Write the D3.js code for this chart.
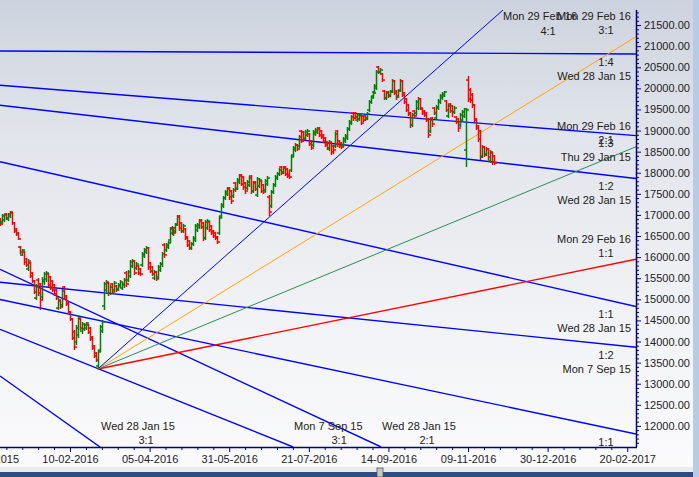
<!DOCTYPE html>
<html><head><meta charset="utf-8">
<script src="https://cdn.jsdelivr.net/npm/d3@7/dist/d3.min.js"></script>
<style>html,body{margin:0;padding:0;overflow:hidden;background:#fff}</style>
</head><body><svg id="c" width="699" height="477"></svg>
<script>
// ---- daily OHLC (bar index 0 .. 248) ----
const opens=[16904,16833,16880,17022,16904,16975,17046,16809,16667,16572,
16240,16051,16122,15956,15719,15861,15624,15434,15031,15458,
15363,15055,15411,15482,15600,15529,15434,15340,15221,14794,
14960,14866,15292,15079,14913,14700,14534,14226,13989,14155,
14534,14249,14297,14320,14392,14320,14107,13894,13728,13420,
13799,14249,14842,15221,15387,15150,15363,15221,15316,15245,
15316,15268,15340,15624,15458,15553,15790,15908,15742,15790,
15719,15814,16027,16122,16216,15861,15766,15505,15648,15529,
15695,15837,16288,16169,16240,16406,16572,16690,16619,16785,
16975,16809,16619,16667,16477,16382,16216,16311,16406,16643,
16714,16880,16809,16453,16690,16833,16738,16619,16572,16477,
16572,16975,17212,17401,17496,17638,17567,17449,17757,17638,
17781,17947,17899,17757,17638,17710,17923,17567,17781,17473,
17686,17804,17710,17591,17733,17425,17212,17544,17710,17875,
17970,18136,18018,18136,18089,17947,18065,18421,18539,18658,
18634,18989,18966,18823,18895,18918,18752,18658,18918,18966,
19060,18989,18895,18823,18729,18563,18705,18634,18634,18989,
18752,18705,18658,18752,18823,19037,19179,19416,19416,19250,
19274,19345,19345,19345,19297,19487,19677,19819,19914,20008,
20506,20388,20340,19937,19771,19914,19843,19937,20174,19937,
19819,19961,20174,19890,19748,19606,19416,19132,19463,19416,
19534,19748,19511,19463,19416,19274,18989,19297,19534,19297,
19534,19677,19771,19819,19700,19345,19629,19582,19440,19321,
19274,19132,19250,19345,18539,20198,19961,19843,19606,19274,
19108,18989,18397,18610,18444,18563,18278,18468,18397];
const highs=[16927,17022,17022,17046,17046,17093,17070,16833,16690,16596,
16264,16193,16145,15979,15956,15885,15648,15458,15363,15505,
15387,15529,15648,15671,15624,15553,15458,15363,15245,15031,
14984,15245,15316,15103,14937,14723,14557,14273,14392,14605,
14557,14463,14439,14463,14415,14344,14131,13918,13752,13799,
14392,14510,15411,15458,15411,15340,15387,15434,15340,15387,
15458,15411,15505,15671,15695,15932,15956,15932,15885,15814,
15742,16122,16216,16264,16240,15885,15790,15695,15671,15814,
15885,16122,16335,16335,16382,16714,16738,16714,16809,16999,
16999,16833,16785,16690,16501,16406,16359,16501,16785,16809,
16904,16904,16833,16880,16904,16856,16762,16643,16596,16501,
16975,17283,17449,17591,17662,17662,17591,17638,17781,17875,
17970,17970,17923,17781,17828,17923,17947,17804,17804,17899,
17875,17828,17733,17852,17923,17473,17591,17757,17947,18018,
18112,18160,18160,18160,18112,18065,18421,18634,18705,18681,
18895,19013,18989,19013,19037,18942,18776,19013,19060,19084,
19084,19013,18918,18847,18752,18776,18729,18658,18966,19013,
18776,18729,18847,18918,19084,19250,19369,19440,19440,19416,
19416,19369,19369,19369,19440,19724,19819,19937,20103,20435,
20530,20482,20364,19961,19937,19937,19961,20222,20198,19961,
19985,20222,20198,19914,19771,19629,19440,19416,19487,19724,
19795,19771,19534,19487,19440,19297,19297,19321,19558,19606,
19748,19866,19914,19937,19724,19629,19653,19606,19582,19345,
19297,19416,19487,19534,19534,20293,20008,19890,19629,19297,
19132,19013,18658,18634,18610,18586,18539,18492,18421];
const lows=[16738,16785,16833,16880,16856,16927,16762,16572,16501,16406,
16074,16027,15814,15766,15671,15505,15387,15126,14984,15079,
14747,14984,15340,15411,15292,15221,15174,15079,14984,14747,
14771,14818,14984,14842,14652,14486,14036,13799,13918,14083,
14273,14178,14249,14273,14178,14012,13799,13609,13515,13349,
13752,14202,14747,15174,15079,15103,15126,15174,15174,15197,
15268,15221,15268,15292,15411,15505,15742,15577,15695,15577,
15553,15766,15979,16074,15695,15624,15553,15458,15434,15482,
15648,15766,15979,16122,16193,16335,16525,16501,16572,16738,
16619,16572,16572,16406,16240,16169,16169,16264,16359,16596,
16667,16667,16382,16406,16643,16596,16525,16453,16406,16311,
16525,16927,17164,17354,17449,17354,17259,17401,17544,17591,
17733,17686,17591,17496,17591,17662,17496,17520,17567,17425,
17638,17520,17496,17544,17686,16975,17164,17496,17662,17828,
17923,17947,17970,17923,17875,17852,18018,18373,18492,18515,
18586,18705,18729,18776,18847,18634,18539,18610,18871,18918,
18847,18800,18705,18610,18539,18515,18421,18444,18586,18610,
18586,18563,18610,18705,18776,18989,19132,19226,19274,19203,
19226,19132,19203,19226,19250,19440,19629,19771,19866,19961,
20340,20340,20151,19724,19724,19771,19795,19890,19843,19724,
19771,19914,19795,19629,19440,19345,19060,19084,19297,19369,
19487,19487,19369,19321,19203,18823,18942,19084,19369,19250,
19487,19629,19724,19795,19440,19297,19416,19321,19392,19155,
18966,19084,19203,19297,18136,19677,19653,19534,19203,19013,
18729,18302,18349,18373,18397,18302,18231,18184,18184];
const closes=[16785,16975,16999,16927,17022,17070,16809,16619,16548,16430,
16122,16169,15885,15814,15908,15553,15434,15174,15316,15150,
14984,15458,15600,15624,15340,15268,15221,15126,15031,14984,
14818,15197,15031,14889,14700,14534,14083,13870,14320,14557,
14320,14415,14392,14439,14226,14060,13846,13657,13562,13752,
14344,14463,15363,15411,15150,15292,15174,15387,15221,15340,
15411,15363,15458,15363,15648,15885,15908,15624,15837,15624,
15600,16074,16169,16216,15766,15671,15600,15648,15482,15766,
15837,16074,16051,16288,16335,16667,16690,16572,16762,16951,
16690,16619,16738,16453,16288,16216,16311,16453,16738,16762,
16856,16714,16453,16833,16856,16643,16572,16501,16453,16359,
16927,17236,17401,17544,17615,17425,17330,17591,17615,17828,
17923,17733,17662,17567,17781,17875,17567,17757,17615,17852,
17828,17567,17544,17804,17875,17070,17544,17710,17899,17970,
18065,17994,18112,17970,17923,17899,18373,18586,18658,18563,
18847,18752,18800,18966,18989,18681,18586,18966,19013,19037,
18895,18847,18752,18658,18586,18729,18492,18539,18918,18681,
18634,18610,18800,18871,19037,19203,19321,19297,19321,19369,
19369,19179,19250,19274,19392,19677,19771,19890,20056,20388,
20388,20435,20198,19771,19890,19819,19914,20174,19890,19795,
19937,20174,19843,19677,19487,19392,19132,19369,19345,19677,
19748,19534,19416,19369,19250,18895,19250,19155,19416,19558,
19700,19819,19866,19914,19487,19582,19463,19440,19534,19203,
19060,19369,19440,19511,19487,19748,19724,19606,19250,19060,
18800,18373,18610,18421,18563,18373,18492,18255,18231];

// ---- time axis (bar index) ----
const xTickIndex=[-5,35,75,115,155,195,235,275,315];
const xTickLabels=["14-12-2015","10-02-2016","05-04-2016","31-05-2016","21-07-2016","14-09-2016","09-11-2016","30-12-2016","20-02-2017"];
const yTickValues=[12000,12500,13000,13500,14000,14500,15000,15500,16000,16500,17000,17500,18000,18500,19000,19500,20000,20500,21000,21500];

// ---- Gann lines: start (bar, price) -> end (bar, price) ----
const gannFrom =["Wed 28 Jan 15","Thu 29 Jan 15","Wed 28 Jan 15","Wed 28 Jan 15","Mon 7 Sep 15","Wed 28 Jan 15","Mon 7 Sep 15","Mon 7 Sep 15","Wed 28 Jan 15","Mon 29 Feb 16","Mon 29 Feb 16","Mon 29 Feb 16","Mon 29 Feb 16"];
const gannRatio=["1:4","1:3","1:2","1:1","1:2","2:1","1:1","3:1","3:1","1:1","2:1","3:1","4:1"];
const gannBar0 =[-0.18,-0.18,-0.18,-0.18,-0.18,-0.18,-0.18,-0.18,-0.18,49,49,49,49];
const gannP0   =[20885,20072,19598,18262,15404,15712,14996,14290,13183,13349,13349,13349,13349];
const gannBar1 =[319.4,319.4,319.4,319.4,319.4,191.3,319.4,147.1,50.1,319.4,319.4,319.4,252.6];
const gannP1   =[20814,18880,17864,14830,13865,11500,11808,11500,11500,15949,18617,21224,21857];

const svg=d3.select("#c");
const W=699,H=477, L=0, R=636, T=10, B=447;
const x=d3.scaleLinear().domain([-0.18,319.4]).range([L,R]);
const y=d3.scaleLinear().domain([11500,22094]).range([B,0]);

const defs=svg.append("defs");
const g=defs.append("linearGradient").attr("id","bg").attr("x1",0).attr("y1",0).attr("x2",0).attr("y2",1);
[[0,"#cdd3de"],[0.3,"#e2e5eb"],[0.65,"#f1f2f5"],[1,"#fbfbfc"]].forEach(s=>g.append("stop").attr("offset",s[0]).attr("stop-color",s[1]));
defs.append("clipPath").attr("id","plot").append("rect").attr("x",L).attr("y",T).attr("width",R-L).attr("height",B-T);

svg.append("rect").attr("width",W).attr("height",H).attr("fill","url(#bg)");
// right strip and bottom scrollbar
svg.append("rect").attr("x",693).attr("y",0).attr("width",6).attr("height",H).attr("fill","#b7cbe2");
svg.append("rect").attr("x",0).attr("y",467).attr("width",693).attr("height",10).attr("fill","#e9ebef");
svg.append("rect").attr("x",0).attr("y",472).attr("width",693).attr("height",5).attr("fill","#2d4e7e");
svg.append("rect").attr("x",377).attr("y",468).attr("width",6).attr("height",9).attr("fill","#c8c8c8").attr("stroke","#555").attr("stroke-width",0.8);

const plot=svg.append("g").attr("clip-path","url(#plot)");

// Gann lines
const fanColor={"1:1":"#ff0000","2:1":"#2e8b57","3:1":"#ffa500","4:1":"#0000ff"};
const idx=d3.range(gannFrom.length);
plot.selectAll("line.gann").data(idx).join("line").attr("class","gann")
  .attr("x1",i=>x(gannBar0[i])).attr("y1",i=>y(gannP0[i]))
  .attr("x2",i=>x(gannBar1[i])).attr("y2",i=>y(gannP1[i]))
  .attr("stroke",i=>gannFrom[i]==="Mon 29 Feb 16"?fanColor[gannRatio[i]]:"#0000ff")
  .attr("stroke-width",i=>gannFrom[i]==="Mon 29 Feb 16"&&gannRatio[i]!=="1:1"?1:1.4);

// OHLC bars
const bars=plot.append("g");
opens.forEach((o,i)=>{
  const c=closes[i]>=o?"#008000":"#ff0000";
  const cx=Math.round(x(i))+0.5;
  const gb=bars.append("g").attr("stroke",c).attr("stroke-width",1.5);
  gb.append("line").attr("x1",cx).attr("x2",cx).attr("y1",y(highs[i])).attr("y2",y(lows[i]));
  gb.append("line").attr("x1",cx-2.5).attr("x2",cx).attr("y1",y(o)).attr("y2",y(o));
  gb.append("line").attr("x1",cx).attr("x2",cx+2.5).attr("y1",y(closes[i])).attr("y2",y(closes[i]));
});

// labels
const font="'Liberation Sans', Arial, sans-serif";
const lab=svg.append("g").attr("font-family",font).attr("font-size",11).attr("fill","#222");
idx.forEach(i=>{
  const ex=x(gannBar1[i]), ey=y(gannP1[i]);
  if(ex>=R-1){
    const up=gannP1[i]>gannP0[i];
    const dY=up?ey-20.5:ey+21.5, rY=up?ey-6.5:ey+7.5;
    if(dY<B-6) lab.append("text").attr("x",R-5).attr("y",dY+4).attr("text-anchor","end").text(gannFrom[i]);
    lab.append("text").attr("x",R-30).attr("y",rY+4).attr("text-anchor","middle").text(gannRatio[i]);
  } else if(ey>=B-1){
    lab.append("text").attr("x",ex+1).attr("y",B-21+4).text(gannFrom[i]);
    lab.append("text").attr("x",ex+46).attr("y",B-7+4).attr("text-anchor","middle").text(gannRatio[i]);
  } else {
    lab.append("text").attr("x",ex).attr("y",ey+6.5+4).text(gannFrom[i]);
    lab.append("text").attr("x",ex+45).attr("y",ey+21.5+4).attr("text-anchor","middle").text(gannRatio[i]);
  }
});

// axes
const axCol="#000080";
const ay=svg.append("g").attr("transform",`translate(${R},0)`);
ay.call(d3.axisRight(y).tickValues(yTickValues).tickFormat(d3.format(".2f")).tickSize(5).tickPadding(3));
ay.append("g").call(d3.axisRight(y).tickValues(d3.range(11600,21900,100).filter(v=>v%500)).tickFormat("").tickSize(3));
ay.selectAll("path.domain").remove();
ay.append("line").attr("x1",0.5).attr("x2",0.5).attr("y1",T).attr("y2",B).attr("stroke",axCol).attr("stroke-width",1.5);
const ax=svg.append("g").attr("transform",`translate(0,${B})`);
ax.call(d3.axisBottom(x).tickValues(xTickIndex).tickFormat((d,i)=>xTickLabels[i]).tickSize(5).tickPadding(3));
ax.append("g").call(d3.axisBottom(x).tickValues(d3.range(-29,320,8).filter(v=>(v+5)%40)).tickFormat("").tickSize(3));
ax.selectAll("path.domain").remove();
ax.append("line").attr("x1",L).attr("x2",R+1).attr("y1",0.5).attr("y2",0.5).attr("stroke",axCol).attr("stroke-width",1.5);
[ay,ax].forEach(a=>{a.selectAll(".tick line").attr("stroke",axCol);a.selectAll("text").attr("font-family",font).attr("font-size",11).attr("fill","#222");});
</script></body></html>
